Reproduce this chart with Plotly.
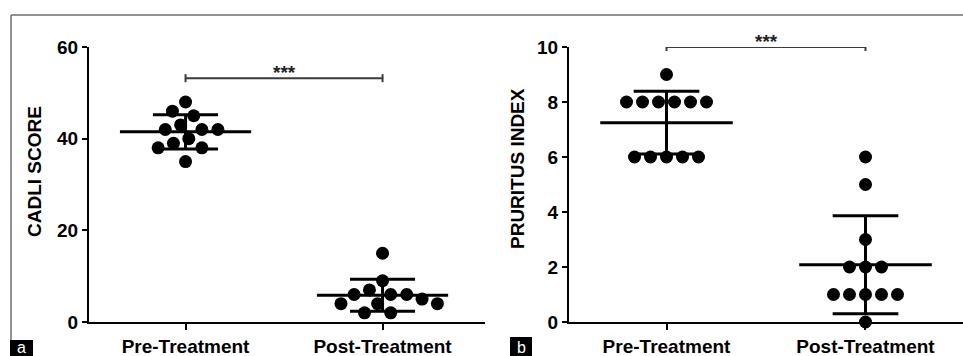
import numpy as np
import plotly.graph_objects as go

# ---------------- data ----------------
categories = ["Pre-Treatment", "Post-Treatment"]
cadli_pre = [48, 46, 45, 43, 42, 42, 42, 40, 39, 38, 38, 35]
cadli_post = [15, 9, 7, 6, 6, 6, 5, 4, 4, 4, 2, 2]
pruritus_pre = [9, 8, 8, 8, 8, 8, 8, 6, 6, 6, 6, 6]
pruritus_post = [6, 5, 3, 2, 2, 2, 1, 1, 1, 1, 1, 0]
cadli_ticks = [0, 20, 40, 60]
pruritus_ticks = [0, 2, 4, 6, 8, 10]
signif_text = "***"

# ---------------- geometry ----------------
W, H = 963, 356
PLOT_TOP, PLOT_BOTTOM = 47, 322
LEFT_X = (89, 485)
RIGHT_X = (569, 963)
XRANGE_L = [-0.49, 1.52]
XRANGE_R = [-0.49, 1.49]
FONT = "Liberation Sans, Arial, sans-serif"


def px_per_cat(xpx, xr):
    return (xpx[1] - xpx[0]) / (xr[1] - xr[0])


def swarm(values, px_per_unit, D=16.0):
    """Greedy beeswarm offsets (pixels) so that dots do not overlap."""
    n = len(values)
    order = sorted(range(n), key=lambda i: -values[i])
    placed = []
    offs = [0.0] * n
    for i in order:
        y = values[i] * px_per_unit
        cands = [0.0]
        for xo, yo in placed:
            dy = abs(y - yo)
            if dy < D:
                w = np.sqrt(D * D - dy * dy)
                cands += [xo - w, xo + w]
        cands.sort(key=lambda c: (abs(c), c))
        for c in cands:
            if all((c - xo) ** 2 + (y - yo) ** 2 >= D * D - 1e-6 for xo, yo in placed):
                offs[i] = c
                placed.append((c, y))
                break
    # centre rows of identical values when possible
    vals = np.array(values, float)
    for v in sorted(set(values)):
        idx = [i for i in range(n) if values[i] == v]
        if len(idx) < 2:
            continue
        shift = -np.mean([offs[i] for i in idx])
        new = {i: offs[i] + shift for i in idx}
        ok = True
        for i in idx:
            for j in range(n):
                if j in idx:
                    continue
                dx = new[i] - offs[j]
                dy = (vals[i] - vals[j]) * px_per_unit
                if dx * dx + dy * dy < D * D - 1e-6:
                    ok = False
        if ok:
            for i in idx:
                offs[i] = new[i]
    return offs


fig = go.Figure()


def add_group(values, cat, xaxis, yaxis, ppc, ppu):
    offs = swarm(values, ppu)
    xs = [cat + o / ppc for o in offs]
    fig.add_trace(go.Scatter(
        x=xs, y=values, mode="markers", xaxis=xaxis, yaxis=yaxis,
        marker=dict(color="black", size=13, line=dict(width=0)),
        cliponaxis=False, showlegend=False, hoverinfo="y"))
    m = float(np.mean(values))
    sd = float(np.std(values, ddof=1))
    mh, ch = 0.333, 0.165
    lx = [cat - mh, cat + mh, None, cat, cat, None,
          cat - ch, cat + ch, None, cat - ch, cat + ch]
    ly = [m, m, None, m - sd, m + sd, None,
          m + sd, m + sd, None, m - sd, m - sd]
    fig.add_trace(go.Scatter(
        x=lx, y=ly, mode="lines", xaxis=xaxis, yaxis=yaxis,
        line=dict(color="black", width=3), cliponaxis=False,
        showlegend=False, hoverinfo="skip"))


ppc_l = px_per_cat(LEFT_X, XRANGE_L)
ppc_r = px_per_cat(RIGHT_X, XRANGE_R)
ppu_l = (PLOT_BOTTOM - PLOT_TOP) / (cadli_ticks[-1] - cadli_ticks[0])
ppu_r = (PLOT_BOTTOM - PLOT_TOP) / (pruritus_ticks[-1] - pruritus_ticks[0])

add_group(cadli_pre, 0, "x", "y", ppc_l, ppu_l)
add_group(cadli_post, 1, "x", "y", ppc_l, ppu_l)
add_group(pruritus_pre, 0, "x2", "y2", ppc_r, ppu_r)
add_group(pruritus_post, 1, "x2", "y2", ppc_r, ppu_r)

ydom = [(H - PLOT_BOTTOM) / H, (H - PLOT_TOP) / H]
tickfont = dict(family=FONT, size=19, color="black", weight="bold")

xcommon = dict(tickvals=[0, 1], ticktext=categories, ticks="outside", ticklen=6,
               tickwidth=2, tickcolor="black", showline=True, linewidth=2,
               linecolor="black", showgrid=False, zeroline=False, automargin=False,
               tickfont=tickfont, fixedrange=True)
ycommon = dict(ticks="outside", ticklen=5, tickwidth=2, tickcolor="black",
               showline=True, linewidth=2, linecolor="black", showgrid=False,
               zeroline=False, automargin=False, tickfont=tickfont, fixedrange=True)

fig.update_layout(
    template="none",
    width=W, height=H, margin=dict(l=0, r=0, t=0, b=0, pad=0, autoexpand=False),
    paper_bgcolor="white", plot_bgcolor="white", showlegend=False,
    xaxis=dict(domain=[LEFT_X[0] / W, LEFT_X[1] / W], range=XRANGE_L, anchor="y", **xcommon),
    yaxis=dict(domain=ydom, range=[cadli_ticks[0], cadli_ticks[-1]], tickvals=cadli_ticks,
               anchor="x", **ycommon),
    xaxis2=dict(domain=[RIGHT_X[0] / W, RIGHT_X[1] / W], range=XRANGE_R, anchor="y2", **xcommon),
    yaxis2=dict(domain=ydom, range=[pruritus_ticks[0], pruritus_ticks[-1]],
                tickvals=pruritus_ticks, anchor="x2", **ycommon),
)

# significance brackets
def bracket(xref, yref, yval, star_shift):
    col = "#3a3a3a"
    fig.add_shape(type="line", xref=xref, yref=yref, x0=0, x1=1, y0=yval, y1=yval,
                  line=dict(color=col, width=2))
    for xc in (0, 1):
        fig.add_shape(type="line", xref=xref, yref=yref, x0=xc, x1=xc,
                      ysizemode="pixel", yanchor=yval, y0=-4, y1=4,
                      line=dict(color=col, width=2))
    fig.add_annotation(x=0.5, y=yval, xref=xref, yref=yref, text=signif_text,
                       showarrow=False, yanchor="middle", yshift=star_shift,
                       font=dict(family=FONT, size=19, color="#222", weight="bold"))

bracket("x", "y", 53.2, 6)
bracket("x2", "y2", 10.0, 6)

# axis titles
fig.add_annotation(x=35 / W, y=(H - 172) / H, xref="paper", yref="paper",
                   text="CADLI SCORE", textangle=-90, showarrow=False,
                   xanchor="center", yanchor="middle",
                   font=dict(family=FONT, size=19, color="black", weight="bold"))
fig.add_annotation(x=517 / W, y=(H - 169) / H, xref="paper", yref="paper",
                   text="PRURITUS INDEX", textangle=-90, showarrow=False,
                   xanchor="center", yanchor="middle",
                   font=dict(family=FONT, size=19, color="black", weight="bold"))

# figure frame
frame_col = "#6e6e6e"
fig.add_shape(type="line", xref="paper", yref="paper", x0=11 / W, x1=1,
              y0=(H - 15) / H, y1=(H - 15) / H, line=dict(color=frame_col, width=1.5))
fig.add_shape(type="line", xref="paper", yref="paper", x0=11 / W, x1=11 / W,
              y0=(H - 340) / H, y1=(H - 15) / H, line=dict(color=frame_col, width=1.5))

# panel letters
for letter, x0, x1, ytop in (("a", 10, 33, 340), ("b", 510, 532, 337)):
    fig.add_shape(type="rect", xref="paper", yref="paper", x0=x0 / W, x1=x1 / W,
                  y0=0, y1=(H - ytop) / H, fillcolor="black", line=dict(width=0))
    fig.add_annotation(x=(x0 + x1) / 2 / W, y=0, xref="paper", yref="paper",
                       text=letter, showarrow=False, xanchor="center", yanchor="bottom",
                       yshift=-2,
                       font=dict(family=FONT, size=16, color="white"))

fig.write_html("out.html",
               config={"displayModeBar": False},
               post_script="document.body.style.margin='0';"
                           "document.body.style.overflow='hidden';")
